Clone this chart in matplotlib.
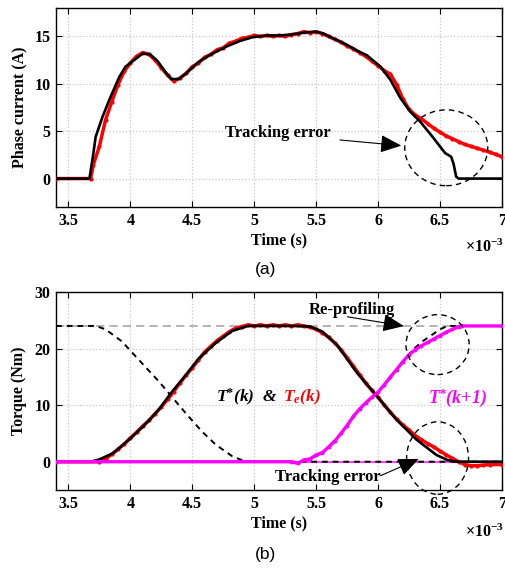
import matplotlib
matplotlib.use('Agg')
import matplotlib.pyplot as plt
from matplotlib.patches import Ellipse

plt.rcParams['font.family'] = ['Liberation Serif', 'DejaVu Serif']
plt.rcParams['font.weight'] = 'bold'
plt.rcParams['mathtext.fontset'] = 'custom'
plt.rcParams['mathtext.rm'] = 'Liberation Serif:bold'
plt.rcParams['mathtext.it'] = 'Liberation Serif:bold:italic'
plt.rcParams['mathtext.bf'] = 'Liberation Serif:bold'

# time axis in ms (shown with x10^-3 s)
x_ticks = [3.5, 4, 4.5, 5, 5.5, 6, 6.5, 7]
x_tick_labels = ['3.5', '4', '4.5', '5', '5.5', '6', '6.5', '7']

# (a) phase current, measured (black)
t_cur_black = [3.40, 3.67, 3.70, 3.72, 3.775, 3.83, 3.91, 3.96, 4.04, 4.10, 4.16, 4.22,
               4.28, 4.33, 4.39, 4.45, 4.55, 4.65, 4.77, 4.88, 4.98, 5.10, 5.20, 5.30,
               5.40, 5.50, 5.56, 5.62, 5.67, 5.75, 5.83, 5.91, 6.02, 6.10, 6.18, 6.26,
               6.34, 6.44, 6.54, 6.59, 6.61, 6.63, 6.65, 7.00]
i_black = [0, 0, 2.5, 4.4, 6.5, 8.3, 10.7, 11.8, 12.6, 13.2, 13.1, 12.4,
           11.3, 10.5, 10.5, 11.1, 12.3, 13.1, 13.9, 14.5, 14.9, 15.1, 15.1, 15.2,
           15.4, 15.5, 15.3, 14.9, 14.6, 14.1, 13.5, 13.0, 11.8, 10.4, 8.5, 7.05,
           6.0, 4.4, 2.7, 2.3, 1.5, 0.2, 0, 0]

# (a) phase current, other trace (red)
t_cur_red = [3.40, 3.68, 3.70, 3.75, 3.80, 3.85, 3.90, 3.95, 4.00, 4.05, 4.10, 4.15,
             4.20, 4.25, 4.30, 4.35, 4.40, 4.45, 4.50, 4.55, 4.60, 4.65, 4.70, 4.75,
             4.80, 4.85, 4.90, 4.95, 5.00, 5.05, 5.10, 5.15, 5.20, 5.25, 5.30, 5.35,
             5.40, 5.45, 5.50, 5.55, 5.60, 5.65, 5.70, 5.75, 5.80, 5.85, 5.90, 5.95,
             6.00, 6.05, 6.10, 6.15, 6.20, 6.25, 6.30, 6.35, 6.40, 6.45, 6.50, 6.55,
             6.60, 6.65, 6.70, 6.75, 6.80, 6.85, 6.90, 6.95, 7.00]
i_red = [0, 0, 1.4, 3.4, 6.2, 8.1, 9.9, 11.3, 12.2, 12.9, 13.3, 13.1,
         12.5, 11.7, 10.9, 10.3, 10.6, 11.1, 11.8, 12.2, 12.8, 13.1, 13.6, 13.8,
         14.3, 14.5, 14.8, 14.9, 15.1, 15.0, 15.1, 15.0, 15.1, 15.0, 15.2, 15.3,
         15.5, 15.4, 15.5, 15.3, 15.0, 14.7, 14.4, 14.0, 13.7, 13.3, 12.9, 12.4,
         11.9, 11.4, 11.0, 9.9, 8.4, 7.3, 6.7, 6.3, 5.8, 5.3, 4.9, 4.5,
         4.2, 3.9, 3.6, 3.4, 3.2, 3.0, 2.8, 2.55, 2.3]

# (b) torque reference T*(k) (black solid)
t_tref = [3.40, 3.68, 3.75, 3.86, 3.99, 4.12, 4.23, 4.33, 4.44, 4.55, 4.69, 4.82, 4.95,
          5.10, 5.30, 5.45, 5.55, 5.67, 5.83, 5.99, 6.15, 6.31, 6.47, 6.56, 6.63, 7.00]
tq_ref = [0, 0, 0.4, 1.5, 3.9, 6.6, 9.2, 12.2, 15.1, 18.2, 21.0, 23.1, 24.0,
          24.0, 24.0, 23.9, 23.0, 20.6, 15.7, 11.6, 7.4, 3.9, 1.2, 0.3, 0, 0]

# (b) electromagnetic torque Te(k) (red)
t_te = [3.40, 3.75, 3.80, 3.85, 3.90, 3.95, 4.00, 4.05, 4.10, 4.15, 4.20, 4.25,
        4.30, 4.35, 4.40, 4.45, 4.50, 4.55, 4.60, 4.65, 4.70, 4.75, 4.80, 4.85,
        4.90, 4.95, 5.00, 5.05, 5.10, 5.15, 5.20, 5.25, 5.30, 5.35, 5.40, 5.45,
        5.50, 5.55, 5.60, 5.65, 5.70, 5.75, 5.80, 5.85, 5.90, 5.95, 6.00, 6.05,
        6.10, 6.15, 6.20, 6.25, 6.30, 6.35, 6.40, 6.45, 6.50, 6.55, 6.60, 6.65,
        6.70, 6.75, 6.80, 6.85, 6.90, 7.00]
tq_e = [0, 0, 0.5, 1.3, 2.2, 3.1, 4.2, 5.2, 6.3, 7.3, 8.5, 9.7,
        11.0, 12.4, 13.9, 15.3, 16.6, 18.0, 19.4, 20.4, 21.4, 22.2, 23.0, 23.6,
        23.9, 24.2, 24.0, 24.2, 24.0, 24.2, 24.0, 24.2, 24.0, 24.2, 24.0, 23.8,
        23.4, 22.8, 22.0, 21.0, 19.8, 18.4, 16.9, 15.4, 13.9, 12.6, 11.4, 10.0,
        8.7, 7.5, 6.5, 5.6, 4.6, 3.9, 3.2, 2.6, 1.9, 1.2, 0.6, 0.0,
        -0.5, -0.7, -0.7, -0.6, -0.5, -0.5]

# (b) previous phase reference (black dashed, falling)
t_prev = [3.40, 3.72, 3.80, 3.93, 4.09, 4.23, 4.33, 4.47, 4.58, 4.69, 4.82, 4.92, 5.00, 7.00]
tq_prev = [24, 24, 23.4, 21.3, 17.5, 14.2, 11.6, 8.0, 5.3, 3.0, 1.0, 0.1, 0, 0]

# (b) next phase reference before re-profiling (black dashed)
t_next_old = [5.40, 5.55, 5.70, 5.85, 6.00, 6.15, 6.28, 6.36, 6.44, 6.50, 6.56, 6.70]
tq_next_old = [0, 1.5, 5.0, 9.3, 12.3, 16.3, 19.8, 21.3, 22.5, 23.4, 24.0, 24.0]

# (b) re-profiled reference T*(k+1) (magenta)
t_next = [3.40, 5.30, 5.35, 5.40, 5.45, 5.50, 5.55, 5.60, 5.65, 5.70, 5.75, 5.80,
          5.85, 5.90, 5.95, 6.00, 6.05, 6.10, 6.15, 6.20, 6.25, 6.30, 6.35, 6.40,
          6.45, 6.50, 6.55, 6.60, 6.65, 6.68, 7.00]
tq_next = [0, 0, -0.3, 0.3, 0.5, 1.2, 1.6, 2.6, 3.6, 5.0, 6.4, 8.0,
           9.3, 10.4, 11.4, 12.3, 13.6, 15.0, 16.3, 17.7, 18.9, 19.8, 20.5, 21.1,
           21.7, 22.3, 22.9, 23.4, 23.9, 24.0, 24.0]

t_rated = [3.40, 7.00]
tq_rated = [24, 24]
t_zero = [3.40, 7.00]
tq_zero = [0, 0]

W, H = 506, 568
fig = plt.figure(figsize=(W / 100, H / 100), dpi=100)
ax1 = fig.add_axes([56 / W, 1 - 207 / H, 446 / W, 199 / H])
ax2 = fig.add_axes([56 / W, 1 - 490 / H, 446 / W, 198 / H])


def style_axes(ax, yticks, ylim, ylabel):
    ax.set_xlim(3.4, 7.0)
    ax.set_ylim(*ylim)
    ax.set_xticks(x_ticks)
    ax.set_xticklabels(x_tick_labels)
    ax.set_yticks(yticks)
    ax.set_yticklabels([str(v) for v in yticks])
    ax.tick_params(direction='in', top=True, right=True, length=4, width=0.8,
                   labelsize=11.5, pad=4)
    ax.grid(True, ls=':', color='#c8c8c8', lw=0.9)
    ax.set_axisbelow(True)
    for s in ax.spines.values():
        s.set_linewidth(1.0)
    ax.set_xlabel('Time (s)', fontsize=11.5, fontweight='bold', labelpad=3)
    ax.set_ylabel(ylabel, fontsize=11.5, fontweight='bold', labelpad=5)


# ---- (a) phase current
ax1.plot(t_cur_red, i_red, color='red', lw=2.5, marker='o', ms=2.0, zorder=3)
ax1.plot(t_cur_black, i_black, color='black', lw=1.9, zorder=4)
style_axes(ax1, [0, 5, 10, 15], (-3, 18), 'Phase current (A)')

ax1.add_patch(Ellipse((6.55, 3.25), 0.67, 8.0, fill=False, ls=(0, (4, 3)), lw=1.0,
                      ec='black', zorder=5))
ax1.text(5.19, 4.8, 'Tracking error', fontsize=12, fontweight='bold', ha='center',
         va='center', zorder=6)
ax1.annotate('', xy=(6.21, 3.45), xytext=(5.67, 4.1),
             arrowprops=dict(arrowstyle='-|>,head_length=1.3,head_width=0.55',
                             mutation_scale=10, lw=0.8, color='black'), zorder=6)

# ---- (b) torque
ax2.plot(t_rated, tq_rated, color='#a8a8a8', lw=1.2, ls=(0, (5, 3)), zorder=2)
ax2.plot(t_zero, tq_zero, color='#ff40ff', lw=1.5, zorder=2)
ax2.plot(t_prev, tq_prev, color='black', lw=1.4, ls=(0, (3, 2.5)), zorder=3)
ax2.plot(t_next_old, tq_next_old, color='black', lw=1.4, ls=(0, (3, 2.5)), zorder=3)
ax2.plot(t_te, tq_e, color='red', lw=2.5, marker='o', ms=2.0, zorder=4)
ax2.plot(t_tref, tq_ref, color='black', lw=1.9, zorder=5)
ax2.plot(t_next, tq_next, color='#ff00ff', lw=2.4, marker='o', ms=1.8, zorder=6)
style_axes(ax2, [0, 10, 20, 30], (-5, 30), 'Torque (Nm)')

ax2.add_patch(Ellipse((6.48, 20.7), 0.51, 10.6, fill=False, ls=(0, (4, 3)), lw=1.0,
                      ec='black', zorder=7))
ax2.add_patch(Ellipse((6.48, 0.65), 0.50, 12.8, fill=False, ls=(0, (4, 3)), lw=1.0,
                      ec='black', zorder=7, clip_on=False))

ax2.text(5.79, 26.9, 'Re-profiling', fontsize=12, fontweight='bold', ha='center',
         va='center', zorder=8)
ax2.annotate('', xy=(6.23, 23.9), xytext=(5.73, 25.7),
             arrowprops=dict(arrowstyle='-|>,head_length=1.3,head_width=0.55',
                             mutation_scale=10, lw=0.8, color='black'), zorder=8)
ax2.text(5.59, -2.66, 'Tracking error', fontsize=12, fontweight='bold', ha='center',
         va='center', zorder=8)
ax2.annotate('', xy=(6.35, 0.7), xytext=(6.0, -2.66),
             arrowprops=dict(arrowstyle='-|>,head_length=1.3,head_width=0.55',
                             mutation_scale=10, lw=0.8, color='black'), zorder=8)

ax2.text(4.69, 11.3, r'T$^{*}$(k)  &', fontsize=12.5, fontweight='bold', style='italic',
         ha='left', va='center', color='black', zorder=8)
ax2.text(5.23, 11.3, r'T$_{e}$(k)', fontsize=12.5, fontweight='bold', style='italic',
         ha='left', va='center', color='red', zorder=8)
ax2.text(6.40, 11.3, r'T$^{*}$(k+1)', fontsize=13, fontweight='bold', style='italic',
         ha='left', va='center', color='#ff00ff', zorder=8)

# scale factor and panel captions
for y in (247, 532):
    fig.text(504 / W, 1 - y / H, r'×10$^{-3}$', fontsize=11.5, fontweight='bold',
             ha='right', va='center')
fig.text(266 / W, 1 - 270 / H, '(a)', family='Liberation Sans', fontweight='normal',
         fontsize=12.5, ha='center', va='center')
fig.text(266 / W, 1 - 555 / H, '(b)', family='Liberation Sans', fontweight='normal',
         fontsize=12.5, ha='center', va='center')

fig.savefig('out.png', dpi=100)
